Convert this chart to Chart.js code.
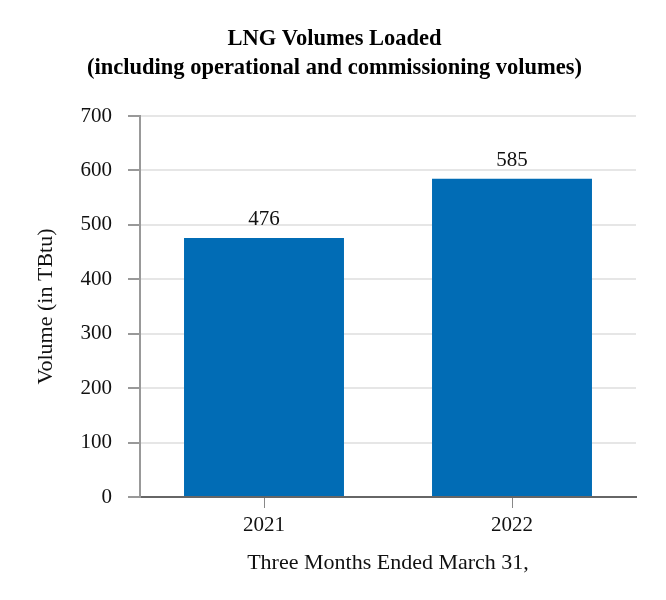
<!DOCTYPE html>
<html>
<head>
<meta charset="utf-8">
<script src="https://cdn.jsdelivr.net/npm/chart.js@4.4.1/dist/chart.umd.min.js"></script>
<style>
  html, body { margin: 0; padding: 0; background: #fff; }
  #wrap { width: 666px; height: 600px; }
</style>
</head>
<body>
<div id="wrap"><canvas id="grafico" width="666" height="600"></canvas></div>
<script>
// datos del gráfico
const categorias = ['2021', '2022'];
const volumenes = [476, 585];
const ticksY = [0, 100, 200, 300, 400, 500, 600, 700];

const fuente = '"Liberation Serif", "Times New Roman", serif';

// etiquetas encima de cada barra
const etiquetasBarras = {
  id: 'etiquetasBarras',
  afterDatasetsDraw(chart) {
    const ctx = chart.ctx;
    const meta = chart.getDatasetMeta(0);
    ctx.save();
    ctx.font = '21px ' + fuente;
    ctx.fillStyle = '#111';
    ctx.textAlign = 'center';
    ctx.textBaseline = 'alphabetic';
    meta.data.forEach((barra, i) => {
      ctx.fillText(String(chart.data.datasets[0].data[i]), barra.x, barra.y - 13);
    });
    ctx.restore();
  }
};

const ctx = document.getElementById('grafico').getContext('2d');
new Chart(ctx, {
  type: 'bar',
  data: {
    labels: categorias,
    datasets: [{
      data: volumenes,
      backgroundColor: '#016cb5',
      borderWidth: 0,
      barPercentage: 0.645,
      categoryPercentage: 1
    }]
  },
  options: {
    responsive: false,
    animation: false,
    layout: { padding: { left: 33, right: 30, top: 0, bottom: 24 } },
    plugins: {
      legend: { display: false },
      tooltip: { enabled: false },
      title: {
        display: true,
        text: ['LNG Volumes Loaded', '(including operational and commissioning volumes)'],
        color: '#000',
        font: { family: fuente, size: 22.5, weight: 'bold', lineHeight: 1.29 },
        padding: { top: 25, bottom: 33 }
      }
    },
    scales: {
      x: {
        afterFit: (escala) => { escala.height = 79; },
        grid: {
          offset: false,
          drawOnChartArea: false,
          tickLength: 11,
          tickColor: '#888'
        },
        border: { color: '#666', width: 2 },
        ticks: { color: '#111', font: { family: fuente, size: 21 }, padding: 5 },
        title: {
          display: true,
          text: 'Three Months Ended March 31,',
          color: '#111',
          font: { family: fuente, size: 22 },
          padding: { top: 8, bottom: 0 }
        }
      },
      y: {
        min: 0,
        max: 700,
        afterFit: (escala) => { escala.width = 107; },
        afterBuildTicks: (escala) => { escala.ticks = ticksY.map(v => ({ value: v })); },
        grid: {
          color: '#e6e6e6',
          lineWidth: 2,
          tickLength: 12,
          tickColor: '#999'
        },
        border: { color: '#999', width: 2 },
        ticks: { color: '#111', font: { family: fuente, size: 21 }, padding: 16 },
        title: {
          display: true,
          text: 'Volume (in TBtu)',
          color: '#111',
          font: { family: fuente, size: 22 },
          padding: { top: 0, bottom: 6 }
        }
      }
    }
  },
  plugins: [etiquetasBarras]
});
</script>
</body>
</html>
